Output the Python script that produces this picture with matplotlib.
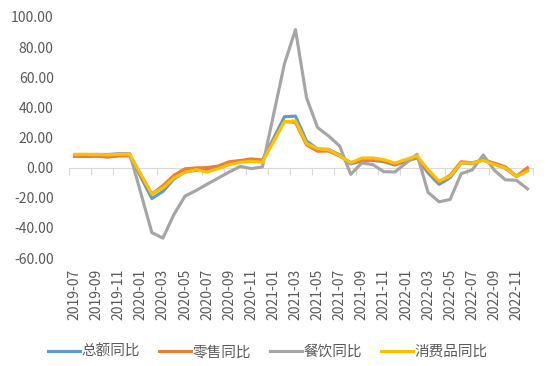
import matplotlib
matplotlib.use('Agg')
import matplotlib.pyplot as plt
import numpy as np
import pandas as pd

plt.rcParams['font.family'] = ['Noto Sans CJK SC', 'DejaVu Sans']
plt.rcParams['axes.unicode_minus'] = False

# monthly categories 2019-07 .. 2022-12
months = [d.strftime('%Y-%m') for d in pd.date_range('2019-07-01', '2022-12-01', freq='MS')]

# January values missing (Jan-Feb reported together), line just connects over them
total = [7.6, 7.5, 7.8, 7.2, 8.0, 8.0,
         None, -20.5, -15.8, -7.5, -2.8, -1.8, -1.1, 0.5, 3.3, 4.3, 5.0, 4.6,
         None, 33.8, 34.2, 17.7, 12.4, 12.1, 8.5, 2.5, 4.4, 4.9, 3.9, 1.7,
         None, 6.7, -3.5, -11.1, -6.7, 3.1, 2.7, 5.4, 2.5, -0.5, -5.9, -1.8]
retail = [7.5, 7.4, 7.7, 7.0, 7.8, 7.9,
          None, -17.6, -12.0, -5.1, -0.8, -0.2, 0.0, 1.1, 3.9, 4.7, 5.8, 5.0,
          None, 30.7, 30.0, 15.1, 10.9, 11.0, 7.7, 3.3, 4.8, 5.0, 4.4, 2.3,
          None, 6.5, -2.1, -9.7, -5.0, 3.9, 3.2, 5.1, 3.0, 0.5, -5.6, -0.1]
catering = [8.6, 8.6, 8.8, 8.7, 9.3, 9.3,
            None, -43.1, -46.8, -31.1, -18.9, -15.2, -11.0, -7.0, -2.9, 0.8, -0.6, 0.4,
            None, 68.9, 91.6, 46.4, 26.6, 21.0, 14.3, -4.5, 3.1, 2.0, -2.7, -2.9,
            None, 8.9, -16.4, -22.7, -21.1, -4.0, -1.5, 8.4, -1.7, -8.1, -8.4, -14.1]
consumer = [8.8, 8.9, 8.7, 8.4, 8.8, 8.9,
            None, -17.5, -13.5, -6.8, -3.1, -1.3, -3.0, -0.7, 2.0, 3.5, 4.2, 3.5,
            None, 30.5, 31.0, 16.0, 12.5, 11.8, 8.0, 3.1, 6.4, 6.4, 5.3, 3.0,
            None, 7.9, -1.3, -9.0, -5.7, 3.1, 3.0, 4.8, 2.0, -0.2, -5.7, -2.4]

names = ['总额同比', '零售同比', '餐饮同比', '消费品同比']
colors = ['#5B9BD5', '#ED7D31', '#A5A5A5', '#FFC000']

fig = plt.figure(figsize=(5.5, 3.66), dpi=100)
ax = fig.add_axes([69/550, 1-258/366, 464/550, 241/366])

x = np.arange(len(months))
for vals, name, c in zip([total, retail, catering, consumer], names, colors):
    s = pd.Series(vals, index=x, dtype=float).dropna()
    ax.plot(s.index, s.values, color=c, lw=2.25, label=name, solid_joinstyle='round')

ax.set_xlim(-0.5, len(months) - 0.5)
ax.set_ylim(-60, 100)
ax.set_yticks(np.arange(-60, 101, 20))
ax.yaxis.set_major_formatter(matplotlib.ticker.FormatStrFormatter('%.2f'))
ax.tick_params(axis='y', length=0, pad=11, labelsize=10, labelcolor='#595959')

ax.set_xticks(x[::2])
ax.set_xticklabels(months[::2], rotation=90)
ax.tick_params(axis='x', length=0, pad=8, labelsize=10, labelcolor='#595959')

for sp in ax.spines.values():
    sp.set_visible(False)

# category axis line crossing at zero, marks between every 2 categories
sec = ax.secondary_xaxis(60/160)
sec.set_alignment('bottom')
sec.set_xticks(np.arange(-0.5, len(months), 2))
sec.tick_params(axis='x', length=5, direction='out', color='#D9D9D9', labelbottom=False, labeltop=False)
sec.spines['bottom'].set_color('#D9D9D9')
sec.spines['bottom'].set_linewidth(0.8)

fig.legend(loc='center', bbox_to_anchor=(0.487, 0.038), ncol=4, frameon=False,
           fontsize=10.5, handlelength=2.2, handletextpad=0.1, columnspacing=1.3,
           labelcolor='#595959')

fig.savefig('out.png', dpi=100)
